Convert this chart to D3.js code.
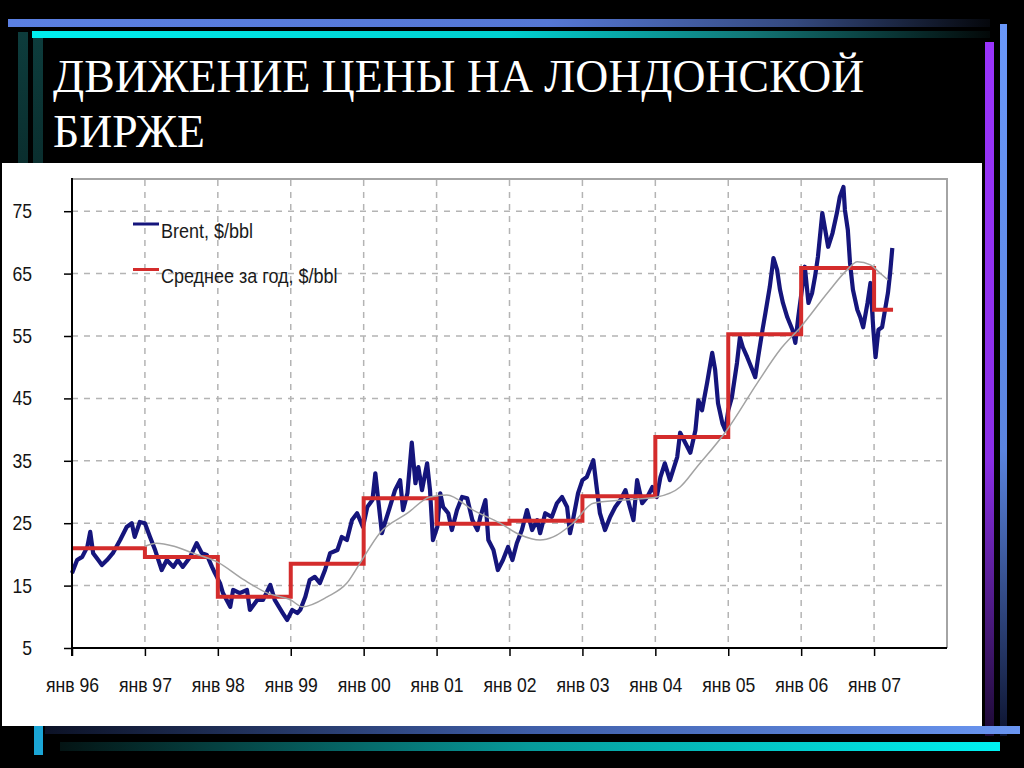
<!DOCTYPE html>
<html><head><meta charset="utf-8">
<script src="https://cdn.jsdelivr.net/npm/d3@7"></script>
<style>html,body{margin:0;padding:0;background:#000;overflow:hidden}</style>
</head><body><svg id="c" width="1024" height="768"></svg>
<script>
// ---------- data ----------
const titleLines = ["ДВИЖЕНИЕ ЦЕНЫ НА ЛОНДОНСКОЙ", "БИРЖЕ"];
const yTicks = [5, 15, 25, 35, 45, 55, 65, 75];
const xTickYears = [1996, 1997, 1998, 1999, 2000, 2001, 2002, 2003, 2004, 2005, 2006, 2007];
const xTickLabels = ["янв 96", "янв 97", "янв 98", "янв 99", "янв 00", "янв 01", "янв 02", "янв 03", "янв 04", "янв 05", "янв 06", "янв 07"];
const seriesNames = ["Brent, $/bbl", "Среднее за год, $/bbl"];

// Brent price (decimal year, $/bbl)
const brentDates = [1996.00,1996.07,1996.14,1996.21,1996.25,1996.29,1996.36,1996.41,1996.48,1996.56,1996.66,1996.75,1996.82,1996.86,1996.93,
1997.00,1997.07,1997.14,1997.23,1997.30,1997.39,1997.45,1997.52,1997.62,1997.71,1997.78,1997.85,1997.92,1997.96,
1998.03,1998.07,1998.17,1998.21,1998.30,1998.40,1998.44,1998.54,1998.62,1998.72,1998.78,1998.89,1998.95,
1999.02,1999.09,1999.13,1999.20,1999.26,1999.33,1999.40,1999.47,1999.54,1999.64,1999.70,1999.77,1999.84,1999.91,1999.99,
2000.05,2000.12,2000.16,2000.20,2000.25,2000.29,2000.36,2000.43,2000.50,2000.54,2000.60,2000.66,2000.71,2000.75,2000.80,2000.87,2000.91,2000.95,
2001.01,2001.05,2001.09,2001.16,2001.21,2001.28,2001.35,2001.42,2001.49,2001.56,2001.60,2001.67,2001.71,2001.78,2001.84,2001.91,2001.98,
2002.04,2002.10,2002.17,2002.24,2002.31,2002.38,2002.42,2002.49,2002.58,2002.65,2002.72,2002.79,2002.83,2002.87,2002.94,
2003.00,2003.06,2003.15,2003.20,2003.24,2003.31,2003.38,2003.45,2003.52,2003.59,2003.65,2003.70,2003.75,2003.82,2003.89,2003.96,
2004.02,2004.07,2004.13,2004.20,2004.30,2004.34,2004.41,2004.48,2004.55,2004.59,2004.64,2004.71,2004.78,2004.82,2004.86,2004.92,2004.96,
2005.00,2005.05,2005.12,2005.16,2005.20,2005.26,2005.33,2005.37,2005.41,2005.47,2005.51,2005.57,2005.62,2005.67,2005.71,2005.75,2005.81,2005.88,2005.92,2005.96,
2006.01,2006.05,2006.10,2006.15,2006.19,2006.23,2006.29,2006.33,2006.37,2006.43,2006.49,2006.53,2006.58,2006.60,2006.64,2006.67,2006.71,2006.77,2006.81,2006.85,2006.91,2006.95,2006.99,
2007.02,2007.06,2007.11,2007.15,2007.19,2007.22,2007.25];
const brentValues = [17.0,19.1,19.6,21.2,23.6,20.2,19.1,18.3,19.1,20.2,22.3,24.4,25.0,22.8,25.2,
25.0,22.8,20.7,17.5,19.1,18.0,19.1,18.0,19.6,21.8,20.2,19.9,18.0,17.0,
15.4,13.8,11.6,14.3,13.8,14.3,11.1,12.7,12.7,15.1,12.7,10.6,9.5,
11.1,10.6,11.1,13.2,15.9,16.4,15.4,17.5,20.2,20.7,22.8,22.3,25.5,26.6,24.4,
27.6,28.7,33.0,28.7,23.4,25.0,27.6,30.3,31.9,27.1,29.8,37.9,31.4,34.0,30.3,34.6,30.3,22.3,
24.4,29.8,27.6,26.6,23.9,27.1,29.2,29.0,25.5,23.9,26.0,28.7,22.3,20.7,17.5,19.1,21.2,
19.1,21.8,23.9,27.1,23.9,25.5,23.4,26.6,26.0,28.2,29.2,27.6,23.4,25.5,29.8,
31.9,32.4,35.1,30.3,26.6,23.9,26.0,27.6,28.7,30.3,27.6,25.5,31.9,28.2,29.2,30.8,
29.2,32.4,34.6,31.9,35.6,39.5,37.9,36.3,39.9,44.7,43.1,47.5,52.3,49.6,44.2,41.0,39.9,
43.1,45.2,50.7,54.8,53.2,51.6,49.6,48.4,51.6,56.0,58.7,62.9,67.5,65.6,62.4,60.3,58.0,56.0,53.9,58.0,
62.4,66.1,60.3,61.9,64.5,67.7,74.7,72.0,69.3,71.5,74.7,77.3,78.9,75.2,72.0,66.7,62.4,59.2,58.0,56.4,60.3,63.5,56.0,
51.6,56.0,56.4,59.2,61.9,65.1,69.1];

// yearly average (start of year, $/bbl)
const avgYears  = [1996, 1997, 1998, 1999, 2000, 2001, 2002, 2003, 2004, 2005, 2006, 2007, 2007.26];
const avgValues = [21.0, 19.6, 13.2, 18.5, 29.0, 24.9, 25.4, 29.3, 38.8, 55.3, 65.9, 59.2, 59.2];

// 12-month moving average
const maDates  = [1997.00,1997.16,1997.40,1997.66,1997.99,1998.36,1998.68,1999.00,1999.16,1999.50,1999.77,1999.95,2000.22,2000.60,2000.91,2001.14,2001.50,2001.87,2002.15,2002.42,2002.60,2002.87,2003.15,2003.56,2004.02,2004.34,2004.57,2004.98,2005.40,2005.71,2005.99,2006.36,2006.63,2006.77,2006.95,2007.08,2007.19];
const maValues = [21.3,21.8,21.3,20.2,18.8,15.9,13.8,12.7,11.6,13.2,15.4,18.6,23.4,26.6,29.2,29.5,27.1,25.0,23.1,22.3,22.8,25.0,28.2,28.7,29.2,30.8,34.0,39.9,47.5,52.8,56.4,61.9,65.6,66.9,66.4,65.1,64.0];

// ---------- drawing ----------
const svg = d3.select("#c");
const defs = svg.append("defs");
function lg(id, x1, y1, x2, y2, stops) {
  const g = defs.append("linearGradient").attr("id", id)
    .attr("x1", x1).attr("y1", y1).attr("x2", x2).attr("y2", y2);
  stops.forEach(s => g.append("stop").attr("offset", s[0]).attr("stop-color", s[1]));
}
lg("gTopBlue", 0, 0, 1, 0, [[0, "#5b80e2"], [0.55, "#5577d4"], [0.8, "#34497f"], [1, "#05070c"]]);
lg("gTopCyan", 0, 0, 1, 0, [[0, "#00eeee"], [0.5, "#00cfcf"], [0.75, "#127676"], [1, "#030808"]]);
lg("gBotBlue", 0, 0, 1, 0, [[0, "#0c1226"], [0.5, "#3f5ea8"], [1, "#6a96f2"]]);
lg("gBotCyan", 0, 0, 1, 0, [[0, "#041414"], [0.5, "#079a9a"], [1, "#00f2f2"]]);
lg("gLeft", 0, 0, 0, 1, [[0, "#0d3c3c"], [1, "#0a2e2e"]]);
lg("gPurple", 0, 0, 0, 1, [[0, "#9a34fc"], [0.6, "#8a2ee6"], [1, "#1c0a33"]]);
lg("gRBlue", 0, 0, 0, 1, [[0, "#6a98fa"], [0.6, "#5a84e0"], [1, "#0d1430"]]);

svg.append("rect").attr("width", 1024).attr("height", 768).attr("fill", "#000");

// decorative bars
svg.append("rect").attr("x", 8).attr("y", 19).attr("width", 982).attr("height", 8).attr("fill", "url(#gTopBlue)");
svg.append("rect").attr("x", 32).attr("y", 31).attr("width", 958).attr("height", 7).attr("fill", "url(#gTopCyan)");
svg.append("rect").attr("x", 18).attr("y", 32).attr("width", 10).attr("height", 132).attr("fill", "url(#gLeft)");
svg.append("rect").attr("x", 33).attr("y", 38).attr("width", 10).attr("height", 126).attr("fill", "url(#gLeft)");
svg.append("rect").attr("x", 985).attr("y", 42).attr("width", 9).attr("height", 694).attr("fill", "url(#gPurple)");
svg.append("rect").attr("x", 1000).attr("y", 24).attr("width", 7).attr("height", 712).attr("fill", "url(#gRBlue)");
svg.append("rect").attr("x", 45).attr("y", 726).attr("width", 975).attr("height", 8).attr("fill", "url(#gBotBlue)");
svg.append("rect").attr("x", 60).attr("y", 742).attr("width", 940).attr("height", 9).attr("fill", "url(#gBotCyan)");
svg.append("rect").attr("x", 34).attr("y", 724).attr("width", 9).attr("height", 31).attr("fill", "#1ba6d6");

// title
svg.append("g").selectAll("text").data(titleLines).join("text")
  .attr("x", 53).attr("y", (d, i) => 92 + i * 55)
  .attr("fill", "#fff")
  .style("font-family", "'Liberation Serif','Times New Roman',serif")
  .style("font-size", "45.7px")
  .text(d => d);

// white chart panel
svg.append("rect").attr("x", 2).attr("y", 163).attr("width", 980).attr("height", 563).attr("fill", "#fff");

const x = d3.scaleLinear().domain([1996, 2008]).range([72, 947]);
const y = d3.scaleLinear().domain([5, 80]).range([648, 180]);
const labelFont = "'Liberation Sans Narrow','Arial Narrow','Liberation Sans',Arial,sans-serif";
const squeeze = 0.88;

const g = svg.append("g");
// frame (top/right)
g.append("path").attr("d", `M${x(1996)},${y(80) - 1}H${x(2008)}V${y(5)}`)
  .attr("fill", "none").attr("stroke", "#a4a4a4").attr("stroke-width", 2);

// grid
g.append("g").selectAll("line").data(yTicks.filter(v => v > 5)).join("line")
  .attr("x1", x(1996)).attr("x2", x(2008)).attr("y1", d => y(d)).attr("y2", d => y(d))
  .attr("stroke", "#b4b4b4").attr("stroke-width", 1.5).attr("stroke-dasharray", "6,6");
g.append("g").selectAll("line").data(xTickYears.filter(v => v > 1996)).join("line")
  .attr("x1", d => x(d)).attr("x2", d => x(d)).attr("y1", y(80)).attr("y2", y(5))
  .attr("stroke", "#b4b4b4").attr("stroke-width", 1.5).attr("stroke-dasharray", "6,6");

// series
const pts = (xs, vs) => xs.map((d, i) => [d, vs[i]]);
g.append("path").datum(pts(brentDates, brentValues))
  .attr("d", d3.line().x(d => x(d[0])).y(d => y(d[1])))
  .attr("fill", "none").attr("stroke", "#15157c").attr("stroke-width", 4.2)
  .attr("stroke-linejoin", "round");
g.append("path").datum(pts(avgYears, avgValues))
  .attr("d", d3.line().curve(d3.curveStepAfter).x(d => x(d[0])).y(d => y(d[1])))
  .attr("fill", "none").attr("stroke", "#d42c2c").attr("stroke-width", 4);
g.append("path").datum(pts(maDates, maValues))
  .attr("d", d3.line().curve(d3.curveMonotoneX).x(d => x(d[0])).y(d => y(d[1])))
  .attr("fill", "none").attr("stroke", "#a3a3a3").attr("stroke-width", 1.5);

// axes
const yAxis = g.append("g").attr("transform", `translate(${x(1996)},0)`)
  .call(d3.axisLeft(y).tickValues(yTicks).tickSize(8).tickPadding(37.5));
const xAxis = g.append("g").attr("transform", `translate(0,${y(5)})`)
  .call(d3.axisBottom(x).tickValues(xTickYears).tickFormat((d, i) => xTickLabels[i]).tickSize(8).tickPadding(22));
[yAxis, xAxis].forEach(a => {
  a.select(".domain").attr("stroke", "#000").attr("stroke-width", 2);
  a.selectAll(".tick line").attr("stroke", "#000").attr("stroke-width", 1.5);
  a.selectAll("text").attr("fill", "#141414").style("font-family", labelFont).style("font-size", "20px")
    .attr("transform", `scale(${squeeze},1)`);
});
yAxis.select(".domain").attr("d", `M-0,${y(80) - 2}V${y(5) + 8}`);
xAxis.select(".domain").attr("d", `M${x(1996)},0H${x(2008)}`);

// legend
const legendColors = ["#15157c", "#d42c2c"];
const lgd = g.append("g").selectAll("g").data(seriesNames).join("g")
  .attr("transform", (d, i) => `translate(133,${224 + i * 45.5})`);
lgd.append("line").attr("x1", 0).attr("x2", 26).attr("stroke", (d, i) => legendColors[i]).attr("stroke-width", 3);
lgd.append("text").attr("transform", "translate(28,13.5) scale(0.9,1)").text(d => d)
  .attr("fill", "#1a1a1a").style("font-family", labelFont).style("font-size", "20px");
</script></body></html>
